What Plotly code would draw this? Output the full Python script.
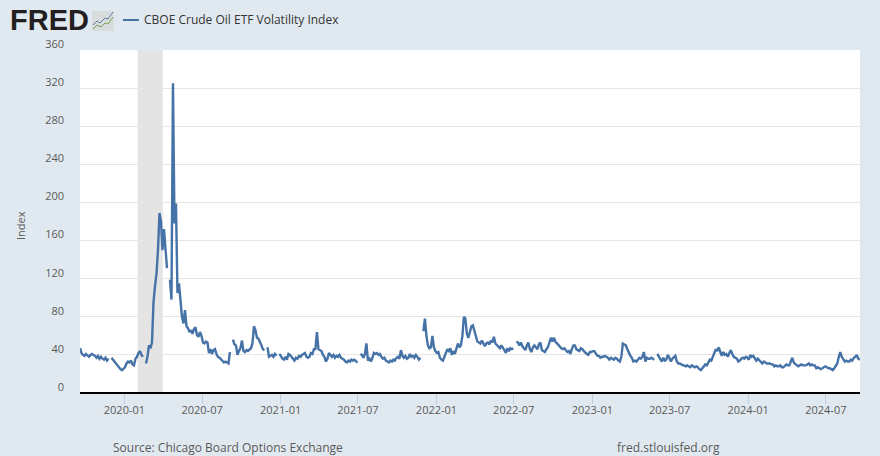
import pandas as pd
import plotly.graph_objects as go

START_DATE = "2019-09-19"
END_DATE = "2024-09-19"
SERIES_NAME = "CBOE Crude Oil ETF Volatility Index"
Y_TICKS = [0, 40, 80, 120, 160, 200, 240, 280, 320, 360]
RECESSION = ("2020-02-01", "2020-03-31")

N = None
vix_2019 = [47,42,40,39,41,39,38,40,41,40,39,37,39,36,38,36,35,37,34,36,
            N,37,35,32,30,28,26,25,24,26,27,31,33,32,34,30,29,36,38,42]
vix_2020a = [44,40,38,N,31,38,50,47,53,95,112,125,150,189,180,150,172,145,131,N,
             119,98,325,178,199,105,115,98,80,73,87,70,68,64,66,62,67,69,61,59]
vix_2020b = [64,60,53,52,54,53,42,46,41,45,46,41,38,37,35,34,32,33,32,31,
             43,N,56,51,50,40,44,47,55,44,43,45,44,46,47,52,70,66,58,57,
             54,50,46,45,N,48,38,39,40,38,41,39,N,41,38,36,35,38,35,41]
vix_2021 = [40,38,36,34,37,36,39,38,40,41,42,38,37,38,42,41,46,46,64,46,
            45,44,40,38,33,36,42,40,38,40,37,39,38,40,37,36,35,33,32,34,
            33,35,34,35,33,32,N,41,40,37,41,52,34,36,33,37,42,41,42,40,
            41,38,36,37,34,33,32,34,33,35,34,37,38,36,45,39,37,39,36,37,
            41,38,39,37,40,38,35,37,N,65,78,60,50,47,48,60,48,44,42,43]
vix_2022 = [37,35,34,38,42,46,44,47,40,44,41,48,52,48,50,60,80,78,62,58,
            66,70,71,66,60,54,53,52,55,52,49,52,53,51,55,53,59,52,50,49,
            47,50,48,45,42,47,44,47,46,47,N,54,53,50,53,49,47,45,50,53,
            46,43,48,50,48,46,51,53,45,44,43,46,48,53,58,54,58,54,52,50,
            49,47,46,47,45,43,44,41,46,50,50,46,45,44,47,46,44,42,41,40]
vix_2023 = [43,43,44,44,41,39,39,37,38,38,39,38,37,35,37,36,35,37,36,34,
            33,38,52,51,50,46,42,39,37,33,34,33,35,37,36,38,43,33,37,36,
            36,37,36,35,N,41,38,35,33,37,34,35,40,37,33,36,38,39,33,31,
            31,30,29,29,28,29,28,27,29,28,27,28,27,25,24,26,28,30,29,33,
            35,34,38,43,46,44,48,43,39,43,40,41,38,42,45,41,38,37,36,33]
vix_2024 = [34,36,37,36,38,37,35,40,38,39,37,34,36,34,32,31,33,32,31,31,
            31,30,30,28,29,28,28,29,27,27,29,30,29,29,33,37,32,30,29,28,
            29,30,29,29,29,30,31,29,30,29,29,26,27,26,25,26,27,28,27,26,
            26,25,24,26,29,31,38,43,38,35,33,34,33,33,35,34,37,38,40,36,35]

values = vix_2019 + vix_2020a + vix_2020b + vix_2021 + vix_2022 + vix_2023 + vix_2024
dates = pd.date_range(START_DATE, periods=len(values), freq="5058min")

BG = "#e1e9f0"
TEXT = "#595959"
LINE = "#4572a7"
W, H = 880, 456
L, R, T, B = 80, 20, 50, 63
PW, PH = W - L - R, H - T - B


def px(x):
    return (x - L) / PW


def py(y):
    return 1 - (y - T) / PH


def path(points):
    return "M " + " L ".join(f"{px(x):.4f},{py(y):.4f}" for x, y in points)


fig = go.Figure()
fig.add_trace(go.Scatter(x=dates, y=values, mode="lines", name=SERIES_NAME,
                         line=dict(color=LINE, width=2.4), connectgaps=False,
                         showlegend=False, hoverinfo="x+y"))

shapes = [
    dict(type="rect", xref="x", yref="paper", x0=RECESSION[0], x1=RECESSION[1], y0=0, y1=1,
         fillcolor="#e4e4e4", line_width=0, layer="below"),
    # legend key
    dict(type="line", xref="paper", yref="paper", x0=px(123), x1=px(139), y0=py(20), y1=py(20),
         line=dict(color=LINE, width=2)),
    # logo badge
    dict(type="rect", xref="paper", yref="paper", x0=px(92), x1=px(114), y0=py(31), y1=py(11),
         fillcolor="#d8dcdc", line_width=0),
    dict(type="path", xref="paper", yref="paper",
         path=path([(93, 25), (97, 21), (100, 23), (105, 18), (108, 19), (113, 12)]),
         line=dict(color="#5b7fa5", width=1)),
    dict(type="path", xref="paper", yref="paper",
         path=path([(93, 29), (97, 25), (101, 27), (105, 23), (108, 24), (113, 17)]),
         line=dict(color="#7f9f55", width=1)),
]

font = "Open Sans"
annotations = [
    dict(text="<b>FRED</b>", x=px(8), y=py(20.5), xref="paper", yref="paper", xanchor="left", yanchor="middle",
         showarrow=False, font=dict(family="Liberation Sans", size=29, color="#231f20")),
    dict(text=SERIES_NAME, x=px(142), y=py(20), xref="paper", yref="paper", xanchor="left", yanchor="middle",
         showarrow=False, font=dict(family=font, size=12, color="#333333")),
    dict(text="Index", x=px(20), y=py(226), xref="paper", yref="paper", xanchor="center", yanchor="middle",
         textangle=-90, showarrow=False, font=dict(family=font, size=11, color=TEXT)),
    dict(text="Source: Chicago Board Options Exchange", x=px(111), y=py(447.5), xref="paper", yref="paper",
         xanchor="left", yanchor="middle", showarrow=False, font=dict(family=font, size=12, color=TEXT)),
    dict(text="fred.stlouisfed.org", x=px(615), y=py(447.5), xref="paper", yref="paper",
         xanchor="left", yanchor="middle", showarrow=False, font=dict(family=font, size=12, color=TEXT)),
]

fig.update_layout(
    width=W, height=H, autosize=False,
    margin=dict(l=L, r=R, t=T, b=B, pad=0, autoexpand=False),
    paper_bgcolor=BG, plot_bgcolor="white",
    font=dict(family=font, size=11, color=TEXT),
    shapes=shapes, annotations=annotations, showlegend=False,
)
fig.update_xaxes(range=[START_DATE, END_DATE], tick0="2020-01-01", dtick="M6", tickformat="%Y-%m",
                 showgrid=False, showline=False,
                 ticks="outside", ticklen=10, tickcolor="#c0d0e0", tickwidth=1,
                 ticklabelstandoff=-3, automargin=False,
                 tickfont=dict(family=font, size=11, color=TEXT), zeroline=False)
fig.update_yaxes(range=[0, 360], tickmode="array", tickvals=Y_TICKS, ticktext=[str(v) for v in Y_TICKS],
                 showgrid=True, gridcolor="#e6e6e6", gridwidth=1,
                 zeroline=True, zerolinecolor="black", zerolinewidth=2, showline=False,
                 ticks="", ticklabelstandoff=15, ticklabelshift=-6, automargin=False,
                 tickfont=dict(family=font, size=11, color=TEXT))

fig.write_html("out.html", config=dict(displayModeBar=False),
               post_script="document.body.style.margin='0';document.documentElement.style.background='#e1e9f0';")
